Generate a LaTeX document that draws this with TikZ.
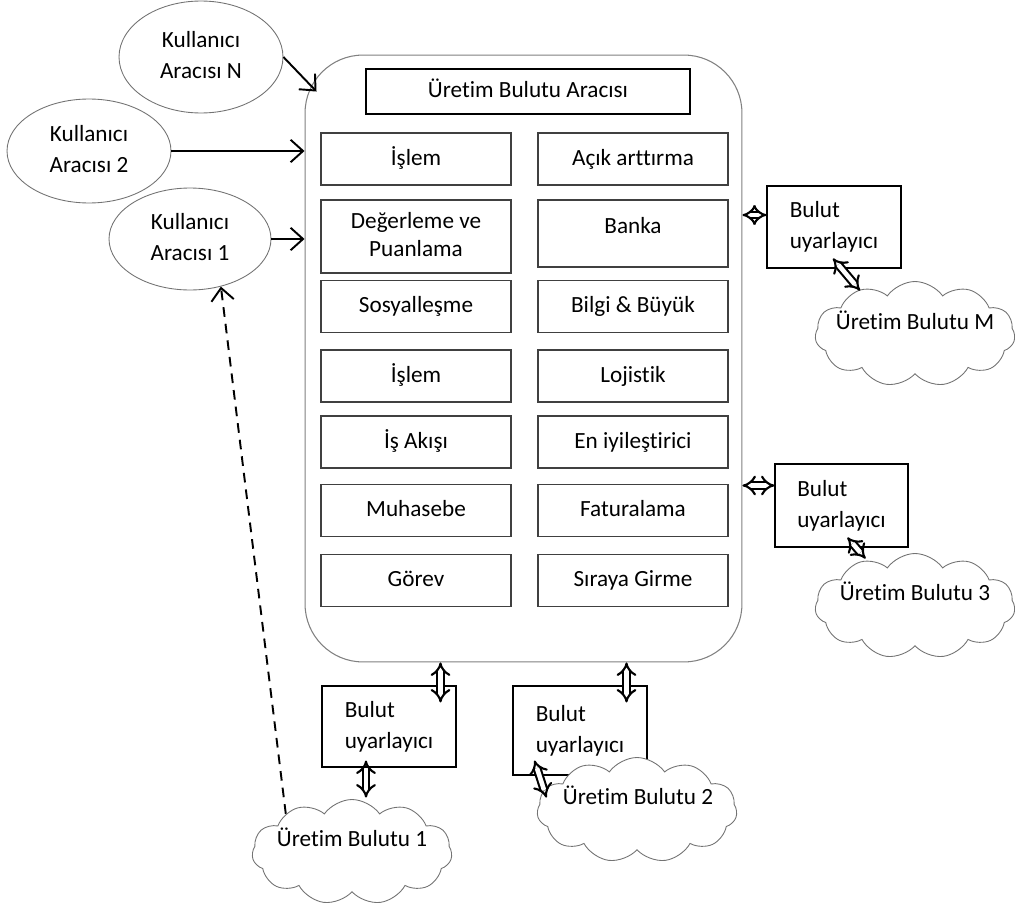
\documentclass[tikz,border=0pt]{standalone}
\usepackage{fontspec}
\setmainfont{Carlito}[Ligatures=CommonOff]
\usepackage{tikz}
\usetikzlibrary{shapes,shapes.symbols,arrows.meta,positioning,calc}
\newcommand{\modfont}{\fontsize{13.2}{17.6}\selectfont}
\tikzset{
	module/.style={draw=black!75, line width=0.7pt, minimum width=3.8cm, minimum height=1.04cm, inner sep=0pt, align=center},
	agent/.style={ellipse, draw=black!55, line width=0.5pt, inner sep=0pt, align=center},
	adapter/.style={draw, line width=0.6pt, minimum width=2.68cm, inner sep=0pt, align=left},
	pcloud/.style={cloud, cloud puffs=11, cloud puff arc=110, aspect=2, draw=black!55, fill=white, line width=0.5pt, minimum width=4cm, minimum height=2.1cm, inner sep=0pt},
	link/.style={line width=1.1pt, -{Straight Barb[length=2.5mm,width=4.5mm]}},
	dbl/.style={double, double distance=2.6pt, line width=1.2pt, {Implies[scale=1.2]}-{Implies[scale=1.2]}}
}

\begin{document}
\begin{tikzpicture}[x=0.02cm,y=-0.02cm,font=\modfont]
	\useasboundingbox (0,0) rectangle (1015,916);
	\node[draw=black!50, line width=0.6pt, rounded corners=1.16cm, minimum width=8.74cm, minimum height=12.14cm] (main) at (523.5,358.5) {};
	\node[draw, line width=0.9pt, minimum width=6.48cm, minimum height=0.9cm] (title) at (528,91.5) {\strut Üretim Bulutu Aracısı};
	\foreach \i/\yc/\lt/\rt in {1/159/İşlem/Açık arttırma, 3/306.5/Sosyalleşme/Bilgi \& Büyük, 4/376/İşlem/Lojistik, 5/442/İş Akışı/En iyileştirici, 6/510.5/Muhasebe/Faturalama, 7/580.5/Görev/Sıraya Girme}{
		\node[module] (l\i) at (416,\yc) {\strut\lt};
		\node[module] (r\i) at (633,\yc) {\strut\rt};
	}
	\node[module, minimum height=1.46cm] (l2) at (416,236.5) {\strut Değerleme ve\\[-1.5pt]\strut Puanlama};
	\node[module, minimum height=1.34cm] (r2) at (633,233.5) {\strut Banka\\[-11pt]\strut};

	\node[agent, minimum width=3.28cm, minimum height=2.24cm] (uN) at (201,57) {\strut Kullanıcı\\\strut Aracısı N};
	\node[agent, minimum width=3.28cm, minimum height=2.08cm] (u2) at (89,151) {\strut Kullanıcı\\\strut Aracısı 2};
	\node[agent, minimum width=3.24cm, minimum height=2.04cm] (u1) at (190,239) {\strut Kullanıcı\\\strut Aracısı 1};

	\node[adapter, minimum height=1.64cm] (aM) at (834,227) {\strut Bulut\\\strut uyarlayıcı};
	\node[adapter, minimum width=2.66cm, minimum height=1.66cm] (a3) at (841.5,505.5) {\strut Bulut\\\strut uyarlayıcı};
	\node[adapter, minimum height=1.62cm] (a1) at (389,726.5) {\strut Bulut\\\strut uyarlayıcı};
	\node[adapter, minimum height=1.78cm] (a2) at (580,730.5) {\strut Bulut\\\strut uyarlayıcı};

	\node[pcloud] (cM) at (915,334) {};
	\node (tM) at (915,323) {\strut Üretim Bulutu M};
	\node[pcloud] (c3) at (915,606) {};
	\node (t3) at (915,594) {\strut Üretim Bulutu 3};
	\node[pcloud] (c1) at (352,852) {};
	\node (t1) at (352,840) {\strut Üretim Bulutu 1};
	\node[pcloud] (c2) at (637,810) {};
	\node (t2) at (638,798) {\strut Üretim Bulutu 2};

	\draw[link] (uN.east) -- ($(main.north west)+(12,37)$);
	\draw[link] (u2.east) -- (main.west |- u2.east);
	\draw[link] (u1.east) -- (main.west |- u1.east);
	\draw[link, dash pattern=on 5.5pt off 4pt] (c1.150) -- (u1.303);

	\coordinate (pM) at ($(aM.west)+(0,-12)$);
	\coordinate (p3) at ($(a3.west)+(0,-20)$);
	\coordinate (q1) at ($(a1.north east)+(-16,17)$);
	\coordinate (q2) at ($(a2.north east)+(-21,17)$);
	\draw[dbl] (main.east |- pM) -- (pM);
	\draw[dbl] (main.east |- p3) -- (p3);
	\draw[dbl] (main.south -| q1) -- (q1);
	\draw[dbl] (main.south -| q2) -- (q2);
	\draw[dbl] ($(aM.south)+(-1,-10)$) -- ($(aM.south)+(26,22)$);
	\draw[dbl] ($(a3.south)+(6,-10)$) -- ($(a3.south)+(24,11)$);
	\draw[dbl] ($(a1.south)+(-23,-7)$) -- ($(a1.south)+(-23,30)$);
	\draw[dbl] ($(a2.south west)+(22,-15)$) -- ($(a2.south west)+(34,22)$);
\end{tikzpicture}
\end{document}
